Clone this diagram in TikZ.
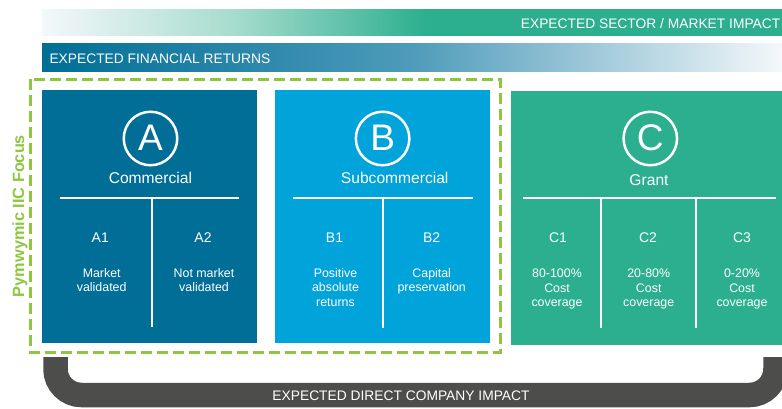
\documentclass[tikz,border=0pt]{standalone}
\usepackage{fontspec}
\setmainfont{Liberation Sans}
\definecolor{commblue}{RGB}{0,110,150}
\definecolor{subblue}{RGB}{0,163,218}
\definecolor{grantgreen}{RGB}{43,175,142}
\definecolor{focusgreen}{RGB}{141,198,63}
\definecolor{bandgray}{RGB}{77,77,75}
\definecolor{paleend}{RGB}{244,248,250}
\definecolor{finmid}{RGB}{78,155,186}
\definecolor{sectormid}{RGB}{167,220,205}
% pale-to-teal fade that is solid teal over the right half of the bar
\pgfdeclarehorizontalshading{sectorfade}{100bp}{color(0bp)=(paleend); color(25bp)=(paleend);
  color(38bp)=(sectormid); color(51bp)=(grantgreen); color(100bp)=(grantgreen)}
\tikzset{
  bartext/.style={font=\fontsize{13.8}{16}\selectfont, text=white, inner sep=0pt},
  panel/.style={anchor=north west, inner sep=0pt, outer sep=0pt},
  ring/.style={circle, draw=white, line width=2.5pt, minimum size=53.5pt, inner sep=0pt},
  bigletter/.style={font=\fontsize{37}{40}\selectfont, text=white, inner sep=0pt},
  title/.style={font=\fontsize{15.6}{18}\selectfont, text=white, anchor=base, inner sep=0pt},
  sublabel/.style={font=\fontsize{14}{16}\selectfont, text=white, anchor=base, inner sep=0pt},
  desc/.style={font=\fontsize{12.4}{14.5}\selectfont, text=white, anchor=base, inner sep=0pt},
  divider/.style={draw=white, line width=1.3pt},
  focusbox/.style={draw=focusgreen, line width=3pt, dash pattern=on 11pt off 5pt},
  focuslabel/.style={font=\fontsize{16.3}{18}\selectfont\bfseries, text=focusgreen, inner sep=0pt},
  uband/.style={draw=bandgray, line width=24.5pt, rounded corners=26pt},
}
\begin{document}
\begin{tikzpicture}[x=1pt,y=-1pt]
\useasboundingbox (0,0) rectangle (782,408);
\clip (0,0) rectangle (782,408);

% gradient bars along the top
\shade[shading=sectorfade] (42,9.5) rectangle (782,35.5);
\shade[left color=commblue, right color=paleend, middle color=finmid]
  (42,43.5) rectangle (782,71);
\node[bartext, anchor=base east] (sector) at (780.5,28.3) {EXPECTED SECTOR / MARKET IMPACT};
\node[bartext, anchor=base west] (finance) at (49.3,63.3) {EXPECTED FINANCIAL RETURNS};

% the three panels
\node[panel, fill=commblue, minimum width=215pt, minimum height=253.8pt] (boxA) at (42,89.5) {};
\node[panel, fill=subblue, minimum width=215pt, minimum height=253.8pt] (boxB) at (275,89.5) {};
\node[panel, fill=grantgreen, minimum width=280pt, minimum height=254pt] (boxC) at (511,91) {};

% focus frame round A and B
\draw[focusbox] (30,79) rectangle (500.7,352);
\node[focuslabel, rotate=90, anchor=base] (focus) at (24,216) {Pymwymic IIC Focus};

% rings, letters and titles
\node[ring] (ringA) at (150.5,138.5) {};
\node[bigletter] (letA) at (150.5,137.5) {A};
\node[title] (titleA) at (150.4,183) {Commercial};
\node[ring] (ringB) at (382.6,138.5) {};
\node[bigletter] (letB) at (382.6,137.5) {B};
\node[title] (titleB) at (394.7,183) {Subcommercial};
\node[ring] (ringC) at (650.3,138.5) {};
\node[bigletter] (letC) at (650.3,137.5) {C};
\node[title] (titleC) at (649,185) {Grant};

% dividers
\draw[divider] (60,198) -- (239,198);
\draw[divider] (152,198) -- (152,327);
\draw[divider] (293,198) -- (473,198);
\draw[divider] (383,198) -- (383,328);
\draw[divider] (523,198) -- (776,198);
\draw[divider] (601,198) -- (601,328);
\draw[divider] (696,198) -- (696,328);

% column labels
\node[sublabel] (A1) at (100.3,242) {A1};
\node[sublabel] (A2) at (203,242) {A2};
\node[sublabel] (B1) at (334.5,242) {B1};
\node[sublabel] (B2) at (431.7,242) {B2};
\node[sublabel] (C1) at (558,242.5) {C1};
\node[sublabel] (C2) at (648,242.5) {C2};
\node[sublabel] (C3) at (742,242.5) {C3};

% column descriptions, one node per line
\foreach \t [count=\i] in {Market, validated}
  \node[desc] (dA1-\i) at (101.7,{277+14.5*(\i-1)}) {\t};
\foreach \t [count=\i] in {Not market, validated}
  \node[desc] (dA2-\i) at (204,{277+14.5*(\i-1)}) {\t};
\foreach \t [count=\i] in {Positive, absolute, returns}
  \node[desc] (dB1-\i) at (335.5,{277+14.5*(\i-1)}) {\t};
\foreach \t [count=\i] in {Capital, preservation}
  \node[desc] (dB2-\i) at (431.7,{277+14.5*(\i-1)}) {\t};
\foreach \t [count=\i] in {80-100\%, Cost, coverage}
  \node[desc] (dC1-\i) at (557,{277.5+14.5*(\i-1)}) {\t};
\foreach \t [count=\i] in {20-80\%, Cost, coverage}
  \node[desc] (dC2-\i) at (648.7,{277.5+14.5*(\i-1)}) {\t};
\foreach \t [count=\i] in {0-20\%, Cost, coverage}
  \node[desc] (dC3-\i) at (742,{277.5+14.5*(\i-1)}) {\t};

% direct company impact band
\draw[uband] (55.5,357) -- (55.5,395) -- (775.5,395) -- (775.5,357);
\node[bartext, anchor=base] (direct) at (401,400.7) {EXPECTED DIRECT COMPANY IMPACT};
\end{tikzpicture}
\end{document}
